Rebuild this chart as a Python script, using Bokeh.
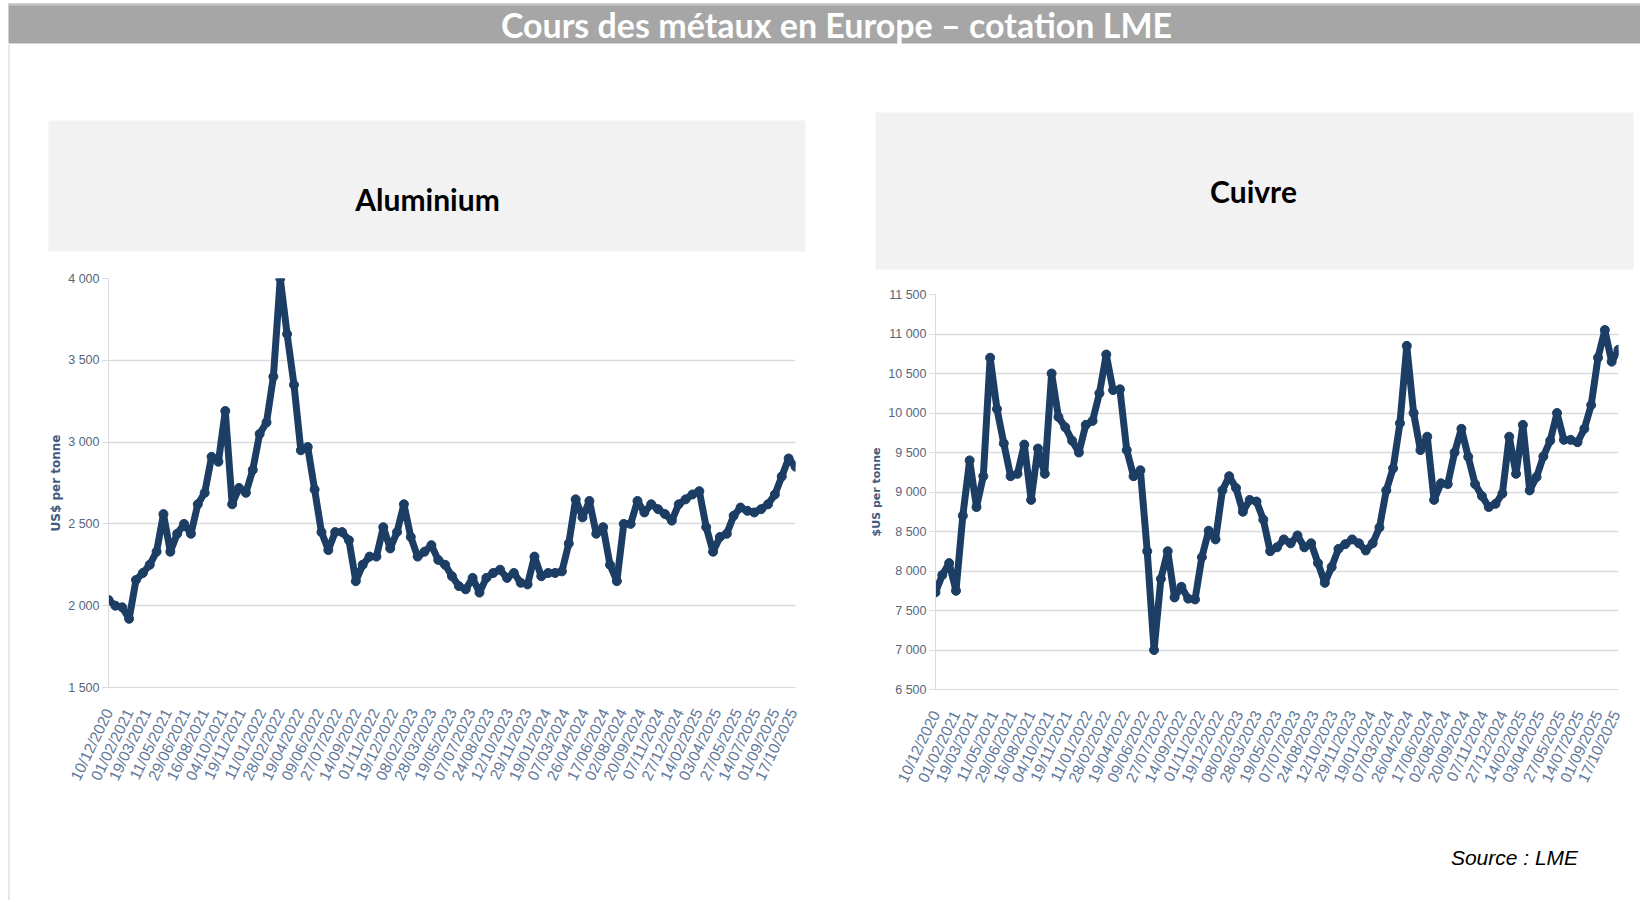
import pandas as pd
from bokeh.plotting import figure
from bokeh.layouts import column, row
from bokeh.models import Range1d, FixedTicker, DatetimeTickFormatter, ColumnDataSource
from bokeh.core.properties import value
from bokeh.embed import file_html
from bokeh.resources import INLINE

# ---------------- data ----------------
title_text = "Cours des métaux en Europe – cotation LME"
source_text = "Source : LME"
alu_title = "Aluminium"
cu_title = "Cuivre"
alu_ylabel = "US$ per tonne"
cu_ylabel = "$US per tonne"

start_date = "2020-12-10"
end_date = "2025-10-24"

aluminium = [2035, 2000, 1990, 1920, 2157, 2200, 2250, 2330, 2560, 2330,
             2440, 2500, 2440, 2620, 2690, 2910, 2880, 3190, 2620, 2720,
             2690, 2830, 3050, 3120, 3400, 4000, 3660, 3350, 2950, 2970,
             2710, 2450, 2340, 2450, 2450, 2400, 2150, 2250, 2300, 2300,
             2480, 2350, 2450, 2620, 2420, 2300, 2330, 2370, 2280, 2250,
             2180, 2120, 2100, 2170, 2080, 2170, 2200, 2220, 2170, 2200,
             2140, 2130, 2300, 2180, 2200, 2200, 2210, 2380, 2650, 2540,
             2640, 2440, 2480, 2250, 2150, 2500, 2500, 2640, 2570, 2620,
             2590, 2560, 2520, 2620, 2650, 2680, 2700, 2480, 2330, 2420,
             2440, 2550, 2600, 2580, 2570, 2590, 2620, 2680, 2790, 2900,
             2850]

cuivre = [7730, 7950, 8100, 7750, 8700, 9400, 8810, 9200, 10700, 10050,
          9615, 9200, 9230, 9600, 8900, 9550, 9230, 10500, 9950, 9820,
          9650, 9500, 9850, 9900, 10250, 10740, 10290, 10300, 9530, 9200,
          9275, 8250, 7000, 7900, 8250, 7665, 7800, 7650, 7640, 8175,
          8510, 8400, 9020, 9200, 9050, 8750, 8900, 8880, 8650, 8250,
          8300, 8400, 8350, 8450, 8300, 8350, 8100, 7850, 8050, 8280,
          8340, 8400, 8350, 8260, 8350, 8550, 9020, 9300, 9870, 10850,
          10000, 9530, 9700, 8900, 9110, 9100, 9500, 9800, 9445, 9100,
          8950, 8810, 8850, 8980, 9700, 9230, 9850, 9020, 9190, 9450,
          9650, 10000, 9660, 9660, 9630, 9800, 10100, 10700, 11050, 10650,
          10800]

date_ticks = ["10/12/2020", "01/02/2021", "19/03/2021", "11/05/2021", "29/06/2021",
              "16/08/2021", "04/10/2021", "19/11/2021", "11/01/2022", "28/02/2022",
              "19/04/2022", "09/06/2022", "27/07/2022", "14/09/2022", "01/11/2022",
              "19/12/2022", "08/02/2023", "28/03/2023", "19/05/2023", "07/07/2023",
              "24/08/2023", "12/10/2023", "29/11/2023", "19/01/2024", "07/03/2024",
              "26/04/2024", "17/06/2024", "02/08/2024", "20/09/2024", "07/11/2024",
              "27/12/2024", "14/02/2025", "03/04/2025", "27/05/2025", "14/07/2025",
              "01/09/2025", "17/10/2025"]

alu_yticks = [1500, 2000, 2500, 3000, 3500, 4000]
alu_ylabels = ["1 500", "2 000", "2 500", "3 000", "3 500", "4 000"]
cu_yticks = [6500, 7000, 7500, 8000, 8500, 9000, 9500, 10000, 10500, 11000, 11500]
cu_ylabels = ["6 500", "7 000", "7 500", "8 000", "8 500", "9 000", "9 500",
              "10 000", "10 500", "11 000", "11 500"]

# ---------------- style ----------------
LINE_COL = "#1c3d64"
GRID_COL = "#d9dbe0"
TICK_COL = "#56667e"
AXLAB_COL = "#3e5a7e"


def deco_fig(w, h, bg="white"):
    f = figure(width=w, height=h, output_backend="svg", toolbar_location=None,
               x_range=Range1d(0, w), y_range=Range1d(h, 0),
               x_axis_location=None, y_axis_location=None, min_border=0,
               background_fill_color=bg, border_fill_color=bg, frame_align=False)
    f.grid.visible = False
    f.outline_line_color = None
    return f


def chart(values, ticks, labels, ymin, ymax, ylabel, w, h, bl, br, bt, bb, ylab_size):
    dates = pd.date_range(start_date, end_date, periods=len(values))
    src = ColumnDataSource(dict(date=dates, val=values))
    p = figure(width=w, height=h, output_backend="svg", toolbar_location=None,
               x_axis_type="datetime",
               x_range=Range1d(pd.Timestamp(start_date), pd.Timestamp(end_date)),
               y_range=Range1d(ymin, ymax), frame_align=False,
               min_border_left=bl, min_border_right=br, min_border_top=bt,
               min_border_bottom=bb)
    p.outline_line_color = None
    p.background_fill_color = "white"
    p.border_fill_color = "white"
    p.xgrid.grid_line_color = None
    p.ygrid.grid_line_color = GRID_COL
    p.ygrid.grid_line_width = 1.6
    p.yaxis.ticker = FixedTicker(ticks=ticks)
    p.yaxis.major_label_overrides = {t: l for t, l in zip(ticks, labels)}
    p.yaxis.axis_line_color = GRID_COL
    p.yaxis.major_tick_line_color = GRID_COL
    p.yaxis.major_tick_in = 0
    p.yaxis.major_tick_out = 6
    p.yaxis.minor_tick_line_color = None
    p.yaxis.major_label_text_font = "Liberation Sans"
    p.yaxis.major_label_text_font_size = "12.5px"
    p.yaxis.major_label_text_color = TICK_COL
    p.yaxis.major_label_standoff = 3
    p.yaxis.axis_label = ylabel
    p.yaxis.axis_label_text_font = "DejaVu Sans"
    p.yaxis.axis_label_text_font_style = "bold"
    p.yaxis.axis_label_text_font_size = ylab_size
    p.yaxis.axis_label_text_color = AXLAB_COL
    p.yaxis.axis_label_standoff = 2

    tick_ms = [int((pd.to_datetime(d, format="%d/%m/%Y") - pd.Timestamp("1970-01-01")) /
                   pd.Timedelta(milliseconds=1)) for d in date_ticks]
    p.xaxis.ticker = FixedTicker(ticks=tick_ms)
    fmt = "%d/%m/%Y"
    p.xaxis.formatter = DatetimeTickFormatter(milliseconds=fmt, seconds=fmt, minsec=fmt,
                                              minutes=fmt, hourmin=fmt, hours=fmt,
                                              days=fmt, months=fmt, years=fmt)
    p.xaxis.major_label_orientation = 1.12
    p.xaxis.axis_line_color = GRID_COL
    p.xaxis.major_tick_line_color = None
    p.xaxis.minor_tick_line_color = None
    p.xaxis.major_label_text_font = "Liberation Sans"
    p.xaxis.major_label_text_font_size = "15.5px"
    p.xaxis.major_label_text_color = "#62779a"
    p.xaxis.major_label_standoff = 16

    p.line("date", "val", source=src, line_color=LINE_COL, line_width=7)
    p.scatter("date", "val", source=src, size=9, color=LINE_COL)
    return p


# ---------------- layout (page origin at 0,0) ----------------
PAGE_W = 1640
title_fig = deco_fig(PAGE_W, 44)
title_fig.quad(left=[8], right=[PAGE_W], top=[3], bottom=[43], fill_color="#a6a6a6",
               line_color=None)
title_fig.quad(left=[8], right=[PAGE_W], top=[3], bottom=[5], fill_color="#c8c8c8",
               line_color=None)
title_fig.text(x=[836], y=[24], text=[title_text], text_color="white",
               text_font=value("Lato"), text_font_style="bold", text_font_size="34px",
               text_align="center", text_baseline="middle")

BODY_H = 856
pad = deco_fig(10, BODY_H)
pad.quad(left=[8], right=[9], top=[0], bottom=[BODY_H], fill_color="#cfcfcf", line_color=None)

# left column (x 10..840)
LW = 830
left_head = deco_fig(LW, 216)
left_head.quad(left=[38], right=[795], top=[76], bottom=[207], fill_color="#f2f2f2", line_color=None)
left_head.text(x=[417], y=[154], text=[alu_title], text_color="black",
               text_font=value("Lato"), text_font_style="bold", text_font_size="30px",
               text_align="center", text_baseline="middle")
left_chart = chart(aluminium, alu_yticks, alu_ylabels, 1500, 4000, alu_ylabel,
                   LW, 540, 98, 45, 18, 113, "12px")
left_foot = deco_fig(LW, BODY_H - 216 - 540)

# right column (x 840..1640)
RW = 800
right_head = deco_fig(RW, 236)
right_head.quad(left=[35], right=[793], top=[68], bottom=[225], fill_color="#f2f2f2", line_color=None)
right_head.text(x=[413], y=[146], text=[cu_title], text_color="black",
                text_font=value("Lato"), text_font_style="bold", text_font_size="30px",
                text_align="center", text_baseline="middle")
right_chart = chart(cuivre, cu_yticks, cu_ylabels, 6500, 11500, cu_ylabel,
                    RW, 520, 95, 22, 14, 111, "11px")
right_foot = deco_fig(RW, BODY_H - 236 - 520)
right_foot.text(x=[674], y=[57], text=[source_text], text_color="black",
                text_font=value("Liberation Sans"), text_font_style="italic",
                text_font_size="21px", text_align="center", text_baseline="middle")

layout = column(title_fig,
                row(pad,
                    column(left_head, left_chart, left_foot, spacing=0),
                    column(right_head, right_chart, right_foot, spacing=0),
                    spacing=0),
                spacing=0)

open("out.html", "w").write(file_html(layout, INLINE))
